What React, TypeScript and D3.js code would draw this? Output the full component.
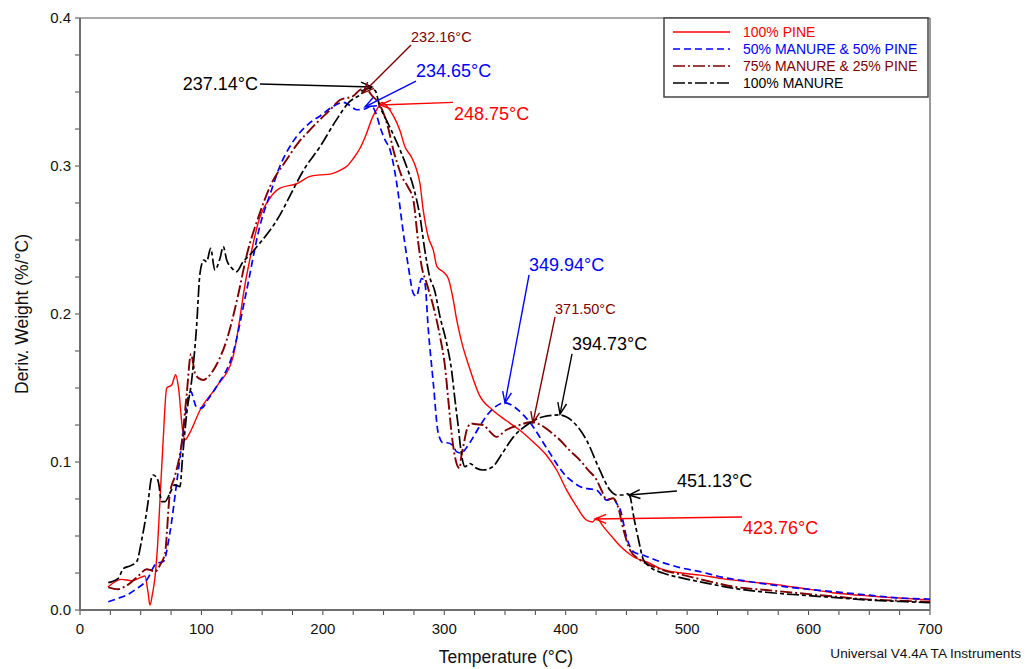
import React, { useEffect, useRef } from 'react';
import * as d3 from 'd3';

// 100% pine
const pineTemp = [23, 34, 42.5, 50, 53.5, 56, 57.6, 59.5, 61.8, 64, 65.9, 68.5, 71.4, 75.5, 78.8, 81, 84.5, 86.5, 90.6, 98.8, 112.5, 126, 137, 148, 157, 164.7, 178.5, 189.4, 197.6, 206, 214, 220, 225, 230.6, 235, 241.5, 245, 248.75, 252, 258, 263.5, 267.6, 273, 277, 280, 282.7, 286.8, 291, 294, 299, 303.3, 307.4, 310, 314, 321, 329, 340, 351, 362, 373, 384, 392.5, 400.8, 409, 417, 422, 425.5, 431, 439, 445, 455.6, 469, 478, 495, 510.6, 530, 552, 575, 593, 620, 650, 675, 700];
const pineDeriv = [0.0155, 0.0207, 0.0198, 0.022, 0.023, 0.012, 0.0034, 0.01, 0.0225, 0.045, 0.0747, 0.115, 0.15, 0.152, 0.159, 0.151, 0.1216, 0.115, 0.12, 0.135, 0.151, 0.171, 0.225, 0.265, 0.279, 0.285, 0.288, 0.293, 0.294, 0.2945, 0.297, 0.3, 0.305, 0.312, 0.32, 0.334, 0.339, 0.343, 0.341, 0.334, 0.324, 0.313, 0.306, 0.298, 0.288, 0.27, 0.252, 0.243, 0.232, 0.2285, 0.224, 0.2095, 0.197, 0.182, 0.163, 0.145, 0.135, 0.128, 0.1216, 0.1137, 0.1047, 0.0946, 0.081, 0.0698, 0.0608, 0.0595, 0.062, 0.0563, 0.0486, 0.043, 0.036, 0.0317, 0.028, 0.025, 0.0236, 0.021, 0.019, 0.017, 0.0149, 0.0117, 0.0095, 0.0081, 0.0068];

// 50% manure & 50% pine
const mix50Temp = [23.3, 30, 38.4, 46, 55, 63, 68.6, 74, 79.6, 85, 89, 91.4, 94, 96, 100, 106, 112.5, 126, 137, 148, 157, 164.7, 175, 189, 198, 208, 216.7, 222, 228, 234.65, 240, 244, 247, 251, 255.3, 260.8, 266.3, 270.4, 274.5, 277, 281.4, 284, 286.8, 291, 295, 299, 302, 307.4, 310, 314, 318.5, 324, 329, 340, 349.94, 359.6, 366, 373, 380, 387, 394, 400.8, 406, 412, 418, 425.5, 430, 433.7, 439, 442, 445, 450, 455.7, 464, 480, 495, 510.6, 530, 552, 580, 620, 650, 675, 700];
const mix50Deriv = [0.0056, 0.0075, 0.0101, 0.014, 0.0203, 0.0315, 0.0327, 0.052, 0.0858, 0.1194, 0.144, 0.1475, 0.141, 0.137, 0.1364, 0.143, 0.151, 0.1736, 0.215, 0.259, 0.282, 0.3, 0.316, 0.329, 0.334, 0.34, 0.343, 0.341, 0.338, 0.3385, 0.3405, 0.335, 0.3266, 0.318, 0.311, 0.2885, 0.2547, 0.232, 0.214, 0.212, 0.224, 0.221, 0.19, 0.153, 0.1196, 0.113, 0.113, 0.111, 0.107, 0.106, 0.11, 0.117, 0.124, 0.136, 0.14, 0.136, 0.131, 0.124, 0.115, 0.106, 0.097, 0.09, 0.0865, 0.0833, 0.082, 0.081, 0.077, 0.0743, 0.0755, 0.072, 0.0676, 0.0495, 0.0394, 0.037, 0.032, 0.0285, 0.0259, 0.022, 0.0191, 0.0158, 0.0124, 0.01, 0.0081, 0.0074];

// 75% manure & 25% pine
const mix75Temp = [23.3, 31.5, 36, 41, 48, 55, 58, 61.8, 65.9, 70, 74, 78, 83.7, 87.9, 91.4, 94.7, 98, 101.6, 105, 109.8, 115, 120.8, 130, 137, 148, 157, 170, 180, 186.7, 196, 206, 214, 225, 232.16, 237, 241, 244, 250, 254, 258, 262, 265, 270, 274.5, 278.6, 281.4, 285.5, 291, 296.5, 300.6, 303.3, 306, 308.8, 311, 312.6, 314, 316, 318.5, 322, 326.7, 332, 337, 343, 351, 362, 371.5, 381.5, 388, 395, 403, 412, 418, 425.5, 430, 433.7, 439, 443, 447.6, 453, 461, 470, 480, 497, 520, 538, 565, 593, 620, 648, 675, 700];
const mix75Deriv = [0.0153, 0.014, 0.0155, 0.018, 0.023, 0.0275, 0.027, 0.0259, 0.0304, 0.0383, 0.0788, 0.09, 0.1126, 0.146, 0.173, 0.16, 0.1565, 0.1554, 0.157, 0.162, 0.17, 0.1824, 0.212, 0.2387, 0.268, 0.287, 0.304, 0.316, 0.322, 0.33, 0.338, 0.3446, 0.3473, 0.352, 0.351, 0.347, 0.3446, 0.3356, 0.325, 0.311, 0.3, 0.293, 0.286, 0.277, 0.248, 0.232, 0.2207, 0.205, 0.1847, 0.1644, 0.142, 0.1194, 0.1036, 0.097, 0.0957, 0.1036, 0.112, 0.1216, 0.126, 0.1255, 0.125, 0.121, 0.117, 0.1216, 0.125, 0.127, 0.124, 0.12, 0.115, 0.108, 0.101, 0.095, 0.0878, 0.08, 0.0743, 0.0755, 0.0698, 0.054, 0.0405, 0.034, 0.03, 0.027, 0.0236, 0.019, 0.0158, 0.0135, 0.0113, 0.0092, 0.0072, 0.0063, 0.0056];

// 100% manure
const manureTemp = [23.3, 31.5, 35.7, 41, 46.7, 50.8, 56.3, 58.5, 60.4, 62.5, 64.5, 67.3, 70, 74, 78, 82.3, 84.5, 87.9, 92, 96, 98.8, 102, 104.3, 107.6, 111, 115.3, 118, 120.8, 125, 129, 134, 140, 148, 156, 164.7, 173, 184, 197.6, 211, 222, 230.6, 237.14, 243, 247, 251, 257, 263.5, 269, 274.5, 280, 284, 288, 292, 296.5, 302, 306, 308.8, 311.5, 314, 317, 321, 326.7, 332, 340, 346, 357, 368, 381.5, 394.73, 406, 417, 428, 436.5, 442, 447.6, 451.13, 453, 456, 460, 464, 469, 480, 497, 520, 538, 565, 593, 620, 648, 675, 700];
const manureDeriv = [0.0185, 0.0214, 0.028, 0.0297, 0.0327, 0.0473, 0.0743, 0.088, 0.0912, 0.09, 0.0867, 0.0732, 0.0732, 0.0788, 0.0845, 0.0833, 0.1036, 0.133, 0.1554, 0.1914, 0.2275, 0.2365, 0.2353, 0.2444, 0.2297, 0.2376, 0.2455, 0.2365, 0.231, 0.2286, 0.235, 0.24, 0.2478, 0.256, 0.267, 0.28, 0.297, 0.313, 0.331, 0.3435, 0.348, 0.3525, 0.351, 0.34, 0.3333, 0.323, 0.311, 0.2995, 0.286, 0.2657, 0.243, 0.225, 0.216, 0.198, 0.18, 0.162, 0.142, 0.124, 0.106, 0.0968, 0.099, 0.0957, 0.0946, 0.0968, 0.1036, 0.117, 0.125, 0.1306, 0.1318, 0.1272, 0.115, 0.0946, 0.081, 0.0777, 0.0777, 0.0785, 0.0766, 0.063, 0.0473, 0.0338, 0.0293, 0.025, 0.0214, 0.0175, 0.0147, 0.012, 0.0101, 0.0085, 0.0068, 0.0058, 0.0049];

const seriesNames = ['100% PINE', '50% MANURE & 50% PINE', '75% MANURE & 25% PINE', '100% MANURE'];
const xTickLabels = ['0', '100', '200', '300', '400', '500', '600', '700'];
const yTickLabels = ['0.0', '0.1', '0.2', '0.3', '0.4'];

// peak annotations: label, arrow tip (T, value), arrow tail (T, value)
const peakLabels = ['237.14°C', '232.16°C', '234.65°C', '248.75°C', '349.94°C', '371.50°C', '394.73°C', '451.13°C', '423.76°C'];
const peakSeries = [3, 2, 1, 0, 1, 2, 3, 3, 0];
const tipTemp = [240.5, 233, 234.7, 247, 350, 373, 395.3, 452.1, 424.1];
const tipDeriv = [0.3534, 0.3493, 0.34, 0.3412, 0.1399, 0.1264, 0.1324, 0.0777, 0.0615];
const tailTemp = [148.2, 272.6, 276.7, 307.2, 369.8, 391.2, 405.2, 491.6, 545.2];
const tailDeriv = [0.3554, 0.3818, 0.3574, 0.343, 0.2264, 0.198, 0.173, 0.0804, 0.0628];

const FONT = 'Liberation Sans, Arial, Helvetica, sans-serif';
const colors = ['#ff0000', '#0000ff', '#800000', '#000000'];
const dashes = [null, '7,4', '12,3,2,3', '12,3,4,3'];

const App = () => {
  const ref = useRef(null);

  useEffect(() => {
    const W = 1025;
    const H = 669;
    const margin = { top: 18, right: 95, bottom: 59, left: 80 };
    const width = W - margin.left - margin.right;
    const height = H - margin.top - margin.bottom;

    const root = d3.select(ref.current);
    root.selectAll('*').remove();

    const svg = root
      .append('svg')
      .attr('width', W)
      .attr('height', H)
      .style('position', 'absolute')
      .style('left', 0)
      .style('top', 0)
      .style('background', '#fff')
      .style('font-family', FONT);

    const g = svg.append('g').attr('transform', `translate(${margin.left},${margin.top})`);

    const x = d3.scaleLinear().domain([0, 700]).range([0, width]);
    const y = d3.scaleLinear().domain([0, 0.4]).range([height, 0]);

    // frame: thin top/right, heavier grey left/bottom axes
    g.append('line').attr('x1', 0).attr('x2', width).attr('y1', 0).attr('y2', 0).attr('stroke', '#555').attr('stroke-width', 1);
    g.append('line').attr('x1', width).attr('x2', width).attr('y1', 0).attr('y2', height).attr('stroke', '#333').attr('stroke-width', 1);

    // x ticks
    const xMinor = d3.range(0, 701, 25);
    g.selectAll('.xt')
      .data(xMinor)
      .join('line')
      .attr('x1', (d) => x(d))
      .attr('x2', (d) => x(d))
      .attr('y1', height)
      .attr('y2', height + 5)
      .attr('stroke', '#444')
      .attr('stroke-width', 1);
    g.selectAll('.xl')
      .data(xTickLabels)
      .join('text')
      .attr('x', (d) => x(+d))
      .attr('y', height + 24)
      .attr('text-anchor', 'middle')
      .attr('font-size', 15)
      .attr('fill', '#111')
      .text((d) => d);

    // y ticks
    const yMinor = d3.range(0, 17).map((i) => i * 0.025);
    g.selectAll('.yt')
      .data(yMinor)
      .join('line')
      .attr('x1', -5)
      .attr('x2', 0)
      .attr('y1', (d) => y(d))
      .attr('y2', (d) => y(d))
      .attr('stroke', '#444')
      .attr('stroke-width', 1);
    g.selectAll('.yl')
      .data(yTickLabels)
      .join('text')
      .attr('x', -9)
      .attr('y', (d) => y(+d))
      .attr('dy', '0.35em')
      .attr('text-anchor', 'end')
      .attr('font-size', 15)
      .attr('fill', '#111')
      .text((d) => d);

    g.append('line').attr('x1', 0).attr('x2', 0).attr('y1', 0).attr('y2', height).attr('stroke', '#6e6e6e').attr('stroke-width', 2);
    g.append('line').attr('x1', 0).attr('x2', width).attr('y1', height).attr('y2', height).attr('stroke', '#6e6e6e').attr('stroke-width', 2);

    // axis titles
    svg
      .append('text')
      .attr('x', 506)
      .attr('y', 657)
      .attr('dy', '0.35em')
      .attr('text-anchor', 'middle')
      .attr('font-size', 17.5)
      .attr('fill', '#111')
      .text('Temperature (°C)');
    svg
      .append('text')
      .attr('transform', 'translate(22,314) rotate(-90)')
      .attr('dy', '0.35em')
      .attr('text-anchor', 'middle')
      .attr('font-size', 17.5)
      .attr('fill', '#111')
      .text('Deriv. Weight (%/°C)');
    svg
      .append('text')
      .attr('x', 1021)
      .attr('y', 653)
      .attr('dy', '0.35em')
      .attr('text-anchor', 'end')
      .attr('font-size', 13.6)
      .attr('fill', '#111')
      .text('Universal V4.4A TA Instruments');

    // curves
    const temps = [pineTemp, mix50Temp, mix75Temp, manureTemp];
    const derivs = [pineDeriv, mix50Deriv, mix75Deriv, manureDeriv];
    const widths = [1.4, 1.7, 1.9, 1.7];
    const line = d3
      .line()
      .x((d) => x(d[0]))
      .y((d) => y(d[1]))
      .curve(d3.curveMonotoneX);

    temps.forEach((t, i) => {
      const pts = t.map((v, j) => [v, derivs[i][j]]);
      const p = g
        .append('path')
        .datum(pts)
        .attr('fill', 'none')
        .attr('stroke', colors[i])
        .attr('stroke-width', widths[i])
        .attr('stroke-linejoin', 'round')
        .attr('d', line);
      if (dashes[i]) p.attr('stroke-dasharray', dashes[i]);
    });

    // peak arrows
    peakLabels.forEach((label, i) => {
      const c = colors[peakSeries[i]];
      const x0 = x(tailTemp[i]);
      const y0 = y(tailDeriv[i]);
      const x1 = x(tipTemp[i]);
      const y1 = y(tipDeriv[i]);
      const ang = Math.atan2(y1 - y0, x1 - x0);
      const len = 12;
      const spread = 0.38;
      const a1 = [x1 - len * Math.cos(ang - spread), y1 - len * Math.sin(ang - spread)];
      const a2 = [x1 - len * Math.cos(ang + spread), y1 - len * Math.sin(ang + spread)];
      g.append('line')
        .attr('x1', x0)
        .attr('y1', y0)
        .attr('x2', x1)
        .attr('y2', y1)
        .attr('stroke', c)
        .attr('stroke-width', 1.4);
      g.append('path')
        .attr('d', `M${a1[0]},${a1[1]}L${x1},${y1}L${a2[0]},${a2[1]}`)
        .attr('fill', 'none')
        .attr('stroke', c)
        .attr('stroke-width', 1.4);

      const small = peakSeries[i] === 2;
      let tx = x0;
      let ty = y0;
      let anchor = 'start';
      if (i === 0) {
        tx = x0 - 2;
        anchor = 'end';
      } else if (peakSeries[i] === 0) {
        tx = x0 + 1;
        ty = y0 + 11;
      } else {
        ty = y0 - (small ? 8 : 10);
      }
      g.append('text')
        .attr('x', tx)
        .attr('y', ty)
        .attr('dy', '0.35em')
        .attr('text-anchor', anchor)
        .attr('font-size', small ? 14.5 : 18)
        .attr('fill', c)
        .text(label);
    });

    // legend
    const lg = svg.append('g').attr('transform', 'translate(664,18)');
    lg.append('rect')
      .attr('width', 264)
      .attr('height', 79)
      .attr('fill', '#fff')
      .attr('stroke', '#444')
      .attr('stroke-width', 1.5);
    seriesNames.forEach((name, i) => {
      const ry = 14 + i * 17;
      const l = lg
        .append('line')
        .attr('x1', 9)
        .attr('x2', 66)
        .attr('y1', ry)
        .attr('y2', ry)
        .attr('stroke', colors[i])
        .attr('stroke-width', 1.3);
      if (dashes[i]) l.attr('stroke-dasharray', dashes[i]);
      lg.append('text')
        .attr('x', 79)
        .attr('y', ry)
        .attr('dy', '0.35em')
        .attr('font-size', 14)
        .attr('fill', colors[i])
        .text(name);
    });
  }, []);

  return <div ref={ref}></div>;
};

export default App;
